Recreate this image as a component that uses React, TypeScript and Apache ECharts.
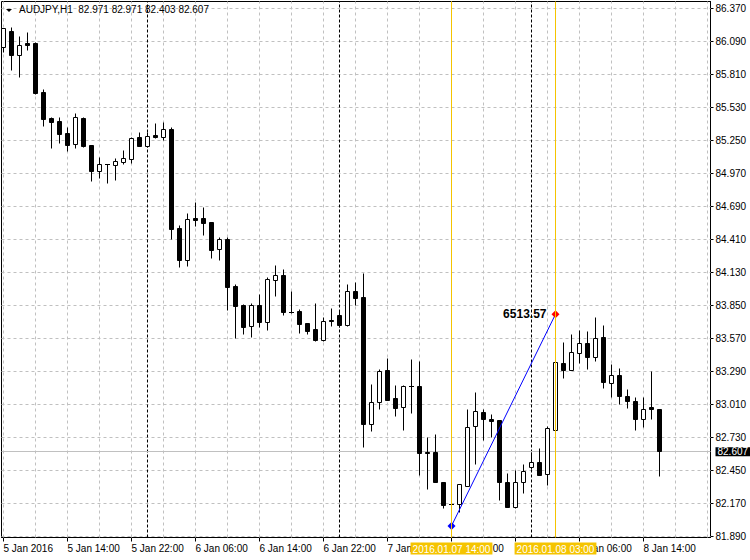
import React, { useEffect, useRef } from 'react';
import * as echarts from 'echarts';

// Hour index counted from 2016.01.05 00:00 (H1 bars)
const hours = [
  6, 7, 8, 9, 10, 11, 12, 13, 14, 15, 16, 17, 18, 19, 20, 21, 22, 23, 24, 25,
  26, 27, 28, 29, 30, 31, 32, 33, 34, 35, 36, 37, 38, 39, 40, 41, 42, 43, 44, 45,
  46, 47, 48, 49, 50, 51, 52, 53, 54, 55, 56, 57, 58, 59, 60, 61, 62, 63, 64, 65,
  66, 67, 68, 69, 70, 71, 72, 73, 74, 75, 76, 77, 78, 79, 80, 81, 82, 83, 84, 85,
  86, 87, 88,
];
const opens = [
  86.043, 86.178, 85.975, 86.071, 86.071, 85.655, 85.437, 85.409, 85.307, 85.216,
  85.437, 85.205, 84.990, 85.047, 85.041, 85.067, 85.092, 85.273, 85.199, 85.290,
  85.279, 85.341, 84.501, 84.232, 84.588, 84.586, 84.552, 84.329, 84.408, 84.011,
  83.848, 83.675, 83.848, 83.706, 84.062, 84.102, 83.794, 83.797, 83.695, 83.644,
  83.553, 83.719, 83.769, 83.680, 83.966, 83.915, 82.840, 83.030, 83.296, 83.058,
  82.985, 83.161, 83.163, 82.601, 82.601, 82.352, 82.160, 82.162, 82.314, 82.827,
  82.946, 82.886, 82.874, 82.352, 82.140, 82.352, 82.473, 82.515, 82.420, 82.790,
  83.355, 83.299, 83.446, 83.525, 83.406, 83.576, 83.192, 83.256, 83.081, 83.039,
  82.883, 82.982, 82.971,
];
const closes = [
  86.198, 85.971, 86.060, 86.056, 85.646, 85.428, 85.403, 85.301, 85.208, 85.443,
  85.199, 84.987, 85.044, 85.045, 85.075, 85.095, 85.265, 85.199, 85.287, 85.276,
  85.341, 84.495, 84.232, 84.577, 84.571, 84.546, 84.317, 84.408, 84.000, 83.845,
  83.661, 83.848, 83.706, 84.068, 84.102, 83.791, 83.791, 83.689, 83.630, 83.553,
  83.718, 83.717, 83.680, 83.966, 83.910, 82.840, 83.030, 83.294, 83.044, 82.979,
  83.163, 83.159, 82.598, 82.598, 82.352, 82.153, 82.158, 82.329, 82.818, 82.954,
  82.883, 82.869, 82.352, 82.140, 82.352, 82.445, 82.515, 82.408, 82.804, 83.364,
  83.299, 83.449, 83.525, 83.406, 83.573, 83.200, 83.256, 83.081, 83.036, 82.883,
  82.965, 82.971, 82.607,
];
const lows = [
  86.000, 85.844, 85.788, 86.014, 85.642, 85.369, 85.180, 85.222, 85.157, 85.180,
  85.191, 84.902, 84.925, 84.889, 84.911, 85.046, 85.052, 85.199, 85.191, 85.265,
  85.250, 84.410, 84.170, 84.181, 84.524, 84.444, 84.246, 84.232, 83.808, 83.568,
  83.604, 83.582, 83.667, 83.638, 83.927, 83.765, 83.780, 83.616, 83.604, 83.546,
  83.548, 83.672, 83.666, 83.672, 83.850, 82.643, 82.784, 82.965, 83.044, 82.908,
  82.790, 82.931, 82.408, 82.289, 82.352, 82.125, 82.156, 82.097, 82.314, 82.501,
  82.705, 82.728, 82.196, 82.134, 82.131, 82.253, 82.455, 82.408, 82.323, 82.790,
  83.228, 83.299, 83.355, 83.304, 83.375, 83.143, 83.067, 83.006, 82.980, 82.790,
  82.818, 82.883, 82.403,
];
const highs = [
  86.204, 86.212, 86.136, 86.170, 86.085, 85.680, 85.443, 85.443, 85.358, 85.477,
  85.443, 85.205, 85.103, 85.048, 85.095, 85.165, 85.273, 85.321, 85.315, 85.392,
  85.406, 85.358, 84.529, 84.628, 84.727, 84.679, 84.558, 84.425, 84.425, 84.028,
  83.859, 83.864, 83.941, 84.091, 84.189, 84.153, 83.969, 83.814, 83.695, 83.870,
  83.746, 83.822, 83.808, 84.030, 84.049, 84.119, 83.177, 83.305, 83.398, 83.171,
  83.171, 83.392, 83.378, 82.728, 82.753, 82.352, 82.162, 82.329, 82.968, 83.115,
  82.968, 82.923, 82.874, 82.428, 82.450, 82.501, 82.606, 82.634, 82.824, 83.370,
  83.540, 83.602, 83.638, 83.633, 83.746, 83.681, 83.347, 83.313, 83.135, 83.067,
  83.073, 83.290, 82.971,
];

const priceTicks = [
  81.89, 82.17, 82.45, 82.73, 83.01, 83.29, 83.57, 83.85, 84.13,
  84.41, 84.69, 84.97, 85.25, 85.53, 85.81, 86.09, 86.37,
];
const timeLabelHours = [6, 14, 22, 30, 38, 46, 54, 62, 70, 78, 86];
const timeLabels = [
  '5 Jan 2016', '5 Jan 14:00', '5 Jan 22:00', '6 Jan 06:00', '6 Jan 14:00',
  '6 Jan 22:00', '7 Jan 06:00', '7 Jan 14:00', '7 Jan 22:00', '8 Jan 06:00', '8 Jan 14:00',
];
const gridHours = [
  6, 10, 14, 18, 22, 26, 30, 34, 38, 42, 46, 50, 54, 58, 62, 66, 70, 74, 78, 82, 86, 90, 94,
];
const daySeparatorHours = [24, 48, 72];
const lastPrice = 82.607;
const titleText = 'AUDJPY,H1  82.971 82.971 82.403 82.607';
const trendHours = [62, 75];
const trendPrices = [81.98, 83.776];
const trendLabel = '6513.57';
const markerHours = [62, 75];
const markerLabels = ['2016.01.07 14:00', '2016.01.08 03:00'];

const FONT = 'Liberation Sans, Arial, sans-serif';
const GOLD = '#F5C400';

export default function App() {
  const ref = useRef<HTMLDivElement>(null);

  useEffect(() => {
    if (!ref.current) return;
    const chart = echarts.init(ref.current, undefined, { renderer: 'svg' });

    const candleData = hours.map((h, i) => [h, opens[i], closes[i], lows[i], highs[i]]);

    const renderCandle = (params: any, api: any) => {
      const h = api.value(0);
      const o = api.value(1);
      const c = api.value(2);
      const l = api.value(3);
      const hi = api.value(4);
      const pO = api.coord([h, o]);
      const pC = api.coord([h, c]);
      const pL = api.coord([h, l]);
      const pH = api.coord([h, hi]);
      const snap = (v: number) => Math.round(v - 0.5) + 0.5;
      const cx = snap(pO[0]);
      const yO = snap(pO[1]);
      const yC = snap(pC[1]);
      const yL = snap(pL[1]);
      const yH = snap(pH[1]);
      const children: any[] = [];
      if (yL - yH >= 1) {
        children.push({
          type: 'line',
          shape: { x1: cx, y1: yH, x2: cx, y2: yL },
          style: { stroke: '#000', lineWidth: 1 },
        });
      }
      const top = Math.min(yO, yC);
      const bot = Math.max(yO, yC);
      if (bot - top < 1) {
        children.push({
          type: 'line',
          shape: { x1: cx - 2.5, y1: top, x2: cx + 2.5, y2: top },
          style: { stroke: '#000', lineWidth: 1 },
        });
      } else {
        children.push({
          type: 'rect',
          shape: { x: cx - 2, y: top, width: 4, height: bot - top },
          style: { fill: c >= o ? '#fff' : '#000', stroke: '#000', lineWidth: 1 },
        });
      }
      return { type: 'group', children };
    };

    const bgLines: any[] = [];
    priceTicks.forEach((p) =>
      bgLines.push({ yAxis: p, lineStyle: { color: '#C0C0C0', type: [3, 3], width: 1 } })
    );
    gridHours.forEach((h) =>
      bgLines.push({ xAxis: h, lineStyle: { color: '#C0C0C0', type: [3, 3], width: 1 } })
    );
    daySeparatorHours.forEach((h) =>
      bgLines.push({ xAxis: h, lineStyle: { color: '#000', type: [3, 2], width: 1 } })
    );
    bgLines.push({
      yAxis: lastPrice,
      lineStyle: { color: '#C0C0C0', type: 'solid', width: 1 },
      label: {
        show: true,
        position: 'end',
        distance: 5,
        formatter: lastPrice.toFixed(3),
        backgroundColor: '#000',
        color: '#fff',
        fontFamily: FONT,
        fontSize: 10,
        lineHeight: 9,
        padding: [0, 2, 0, 2],
      },
    });

    const option: any = {
      animation: false,
      backgroundColor: '#fff',
      textStyle: { fontFamily: FONT },
      grid: {
        left: 1.5,
        right: 39.5,
        top: 1.5,
        bottom: 22.5,
        show: true,
        borderColor: '#000',
        borderWidth: 1,
        backgroundColor: '#fff',
      },
      xAxis: {
        type: 'value',
        min: 5.75,
        max: 94.375,
        axisLine: { show: true, lineStyle: { color: '#000', width: 1 } },
        axisTick: { show: true, customValues: timeLabelHours, length: 4, lineStyle: { color: '#000' } },
        axisLabel: {
          customValues: timeLabelHours,
          formatter: (v: number) => timeLabels[timeLabelHours.indexOf(Math.round(v))] ?? '',
          align: 'left',
          margin: 6,
          color: '#000',
          fontSize: 10,
          fontFamily: FONT,
        },
        splitLine: { show: false },
      },
      yAxis: {
        type: 'value',
        position: 'right',
        min: 81.8815152,
        max: 86.4293939,
        scale: true,
        axisLine: { show: true, lineStyle: { color: '#000', width: 1 } },
        axisTick: { show: true, customValues: priceTicks, length: 3, lineStyle: { color: '#000' } },
        axisLabel: {
          customValues: priceTicks,
          formatter: (v: number) => v.toFixed(3),
          margin: 5,
          color: '#000',
          fontSize: 10,
          fontFamily: FONT,
        },
        splitLine: { show: false },
      },
      series: [
        {
          type: 'line',
          name: 'bg',
          data: [],
          silent: true,
          markLine: {
            silent: true,
            z: 1,
            symbol: ['none', 'none'],
            animation: false,
            label: { show: false },
            emphasis: { disabled: true },
            data: bgLines,
          },
        },
        {
          type: 'custom',
          name: 'AUDJPY',
          z: 3,
          clip: true,
          renderItem: renderCandle,
          encode: { x: 0, y: [1, 2, 3, 4] },
          data: candleData,
        },
        {
          type: 'line',
          name: 'trend',
          z: 4,
          silent: true,
          data: [
            {
              value: [trendHours[0], trendPrices[0]],
              itemStyle: { color: '#0000FF' },
            },
            {
              value: [trendHours[1], trendPrices[1]],
              itemStyle: { color: '#FF0000' },
              label: {
                show: true,
                position: 'left',
                distance: 5,
                formatter: trendLabel,
                color: '#000',
                fontWeight: 'bold',
                fontSize: 12,
                fontFamily: FONT,
              },
            },
          ],
          symbol: 'diamond',
          symbolSize: 8,
          showAllSymbol: true,
          lineStyle: { color: '#0000FF', width: 1 },
          markLine: {
            silent: true,
            z: 5,
            symbol: ['none', 'none'],
            animation: false,
            lineStyle: { color: GOLD, type: 'solid', width: 1 },
            label: {
              show: true,
              position: 'start',
              distance: 5,
              backgroundColor: GOLD,
              color: '#fff',
              fontFamily: FONT,
              fontSize: 10,
              lineHeight: 11,
              padding: [1, 2, 0, 2],
            },
            data: markerHours.map((h, i) => ({ xAxis: h, label: { formatter: markerLabels[i] } })),
          },
        },
      ],
      graphic: [
        {
          type: 'polygon',
          shape: { points: [[6, 9], [12, 9], [9, 12]] },
          style: { fill: '#000' },
          z: 10,
        },
        {
          type: 'text',
          x: 19,
          y: 9,
          style: {
            text: titleText,
            fill: '#000',
            font: `10px ${FONT}`,
            textVerticalAlign: 'middle',
          },
          z: 10,
        },
      ],
    };

    chart.setOption(option);
    return () => chart.dispose();
  }, []);

  return (
    <div
      ref={ref}
      style={{ position: 'fixed', left: 0, top: 0, width: 750, height: 560, background: '#fff' }}
    />
  );
}
